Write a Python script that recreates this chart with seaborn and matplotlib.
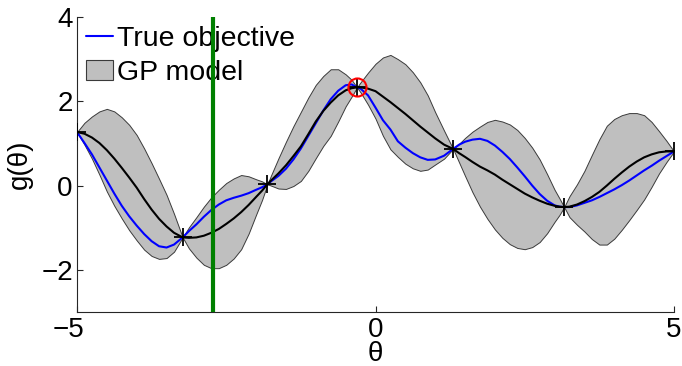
import matplotlib
matplotlib.use("Agg")
import matplotlib.pyplot as plt
import matplotlib.transforms as mtransforms
import seaborn as sns
import pandas as pd
from matplotlib.lines import Line2D
from matplotlib.patches import Patch

# ---- data ----
theta = [-5.0, -4.875, -4.75, -4.625, -4.5, -4.375, -4.25, -4.125, -4.0, -3.875, -3.75, -3.625, -3.5, -3.375, -3.23,
         -3.125, -3.0, -2.875, -2.75, -2.625, -2.5, -2.375, -2.25, -2.125, -2.0, -1.9, -1.81,
         -1.75, -1.625, -1.5, -1.375, -1.25, -1.125, -1.0, -0.875, -0.75, -0.625, -0.5, -0.4, -0.31,
         -0.25, -0.125, 0.0, 0.125, 0.25, 0.375, 0.5, 0.625, 0.75, 0.875, 1.0, 1.15, 1.3,
         1.4, 1.5, 1.625, 1.75, 1.875, 2.0, 2.125, 2.25, 2.375, 2.5, 2.625, 2.75, 2.875, 3.0, 3.08, 3.16,
         3.25, 3.375, 3.5, 3.625, 3.75, 3.875, 4.0, 4.125, 4.25, 4.375, 4.5, 4.625, 4.75, 4.875, 5.0]

gp_mean = [1.27, 1.23, 1.14, 1.01, 0.84, 0.64, 0.42, 0.19, -0.05, -0.32, -0.57, -0.79, -0.97, -1.12, -1.23,
           -1.24, -1.23, -1.19, -1.12, -1.03, -0.91, -0.78, -0.63, -0.46, -0.27, -0.12, 0.03,
           0.12, 0.29, 0.48, 0.70, 0.93, 1.22, 1.52, 1.77, 1.97, 2.14, 2.26, 2.31, 2.33,
           2.33, 2.30, 2.24, 2.11, 1.98, 1.84, 1.70, 1.55, 1.40, 1.26, 1.12, 0.97, 0.87,
           0.77, 0.68, 0.56, 0.45, 0.36, 0.26, 0.14, 0.03, -0.08, -0.19, -0.28, -0.36, -0.43, -0.48, -0.50, -0.51,
           -0.50, -0.45, -0.37, -0.27, -0.15, 0.00, 0.16, 0.31, 0.45, 0.57, 0.67, 0.74, 0.79, 0.81, 0.81]

gp_upper = [1.27, 1.49, 1.64, 1.76, 1.82, 1.76, 1.62, 1.44, 1.20, 0.88, 0.53, 0.16, -0.22, -0.67, -1.23,
            -0.99, -0.75, -0.50, -0.28, -0.10, 0.06, 0.17, 0.25, 0.22, 0.15, 0.10, 0.03,
            0.24, 0.65, 1.04, 1.41, 1.75, 2.09, 2.39, 2.60, 2.76, 2.76, 2.64, 2.51, 2.33,
            2.45, 2.68, 2.89, 3.04, 3.10, 3.00, 2.88, 2.69, 2.45, 2.14, 1.74, 1.30, 0.87,
            0.99, 1.13, 1.28, 1.40, 1.51, 1.56, 1.52, 1.45, 1.32, 1.13, 0.90, 0.62, 0.27, -0.10, -0.30, -0.51,
            -0.25, 0.03, 0.35, 0.73, 1.10, 1.42, 1.58, 1.67, 1.72, 1.72, 1.67, 1.51, 1.29, 1.06, 0.81]

gp_lower = [1.27, 0.97, 0.64, 0.26, -0.14, -0.48, -0.78, -1.06, -1.30, -1.52, -1.67, -1.74, -1.72, -1.57, -1.23,
            -1.49, -1.71, -1.88, -1.96, -1.96, -1.88, -1.73, -1.51, -1.14, -0.69, -0.34, 0.03,
            0.00, -0.07, -0.08, -0.01, 0.11, 0.35, 0.65, 0.94, 1.18, 1.52, 1.88, 2.11, 2.33,
            2.21, 1.92, 1.59, 1.18, 0.86, 0.68, 0.52, 0.41, 0.35, 0.38, 0.50, 0.64, 0.87,
            0.55, 0.23, -0.16, -0.50, -0.79, -1.04, -1.24, -1.39, -1.48, -1.51, -1.46, -1.34, -1.13, -0.86, -0.70, -0.51,
            -0.75, -0.93, -1.09, -1.27, -1.40, -1.40, -1.26, -1.05, -0.82, -0.58, -0.33, -0.03, 0.29, 0.56, 0.81]

true_obj = [1.27, 1.01, 0.74, 0.43, 0.12, -0.19, -0.48, -0.73, -0.95, -1.15, -1.32, -1.44, -1.47, -1.40, -1.23,
            -1.08, -0.92, -0.74, -0.58, -0.45, -0.35, -0.29, -0.24, -0.18, -0.10, -0.04, 0.03,
            0.10, 0.23, 0.40, 0.62, 0.88, 1.18, 1.48, 1.78, 2.05, 2.25, 2.38, 2.40, 2.33,
            2.30, 2.14, 1.85, 1.55, 1.33, 1.05, 0.90, 0.77, 0.67, 0.61, 0.62, 0.71, 0.87,
            0.97, 1.04, 1.09, 1.11, 1.06, 0.95, 0.80, 0.63, 0.43, 0.22, 0.00, -0.20, -0.36, -0.47, -0.50, -0.51,
            -0.51, -0.47, -0.41, -0.35, -0.27, -0.18, -0.09, 0.01, 0.12, 0.24, 0.36, 0.47, 0.59, 0.70, 0.81]

obs_theta = [-5.0, -3.23, -1.81, -0.31, 1.30, 3.16, 5.0]
obs_g = [1.27, -1.23, 0.03, 2.33, 0.87, -0.51, 0.81]

best_theta = [-0.31]
best_g = [2.33]

next_theta = -2.72

x_ticks = [-5, 0, 5]
y_ticks = [-2, 0, 2, 4]
legend_labels = ["True objective", "GP model"]

df = pd.DataFrame({"theta": theta, "mean": gp_mean, "upper": gp_upper,
                   "lower": gp_lower, "true": true_obj})

# ---- styling ----
sns.set_style("ticks")
plt.rcParams["font.family"] = ["Liberation Sans", "DejaVu Sans"]
plt.rcParams["axes.unicode_minus"] = True
plt.rcParams["text.color"] = "black"
plt.rcParams["axes.labelcolor"] = "black"

fig = plt.figure(figsize=(6.82, 3.66), dpi=100)
ax = fig.add_axes([77 / 682, 1 - 312 / 366, (674 - 77) / 682, (312 - 17) / 366])

ax.fill_between(df["theta"], df["lower"], df["upper"], facecolor="#bfbfbf",
                edgecolor="#3a3a3a", linewidth=0.7, zorder=1)

sns.lineplot(data=df, x="theta", y="true", color="#0000ff", linewidth=1.5,
             ax=ax, zorder=3, sort=False)
sns.lineplot(data=df, x="theta", y="mean", color="black", linewidth=1.5,
             ax=ax, zorder=4, sort=False)

ax.axvline(next_theta, color="#008000", linewidth=3, zorder=7)

ax.plot(obs_theta, obs_g, linestyle="none", marker="+", markersize=13.5,
        markeredgewidth=1.3, color="black", zorder=5)
ax.plot(best_theta, best_g, linestyle="none", marker="o", markersize=13,
        markerfacecolor="none", markeredgecolor="red", markeredgewidth=1.5, zorder=6)

ax.set_xlim(-5, 5)
ax.set_ylim(-3, 4)
ax.set_xticks(x_ticks)
ax.set_yticks(y_ticks)
ax.tick_params(direction="in", length=4, width=0.8, labelsize=20, colors="#262626",
               labelcolor="black")
ax.tick_params(axis="x", pad=3.5)
ax.tick_params(axis="y", pad=3)
ax.set_xlabel("θ", fontsize=20, labelpad=-1)
ax.set_ylabel("g(θ)", fontsize=20, labelpad=6)
sns.despine(ax=ax)
for s in ["left", "bottom"]:
    ax.spines[s].set_linewidth(0.8)
    ax.spines[s].set_color("#262626")

# MATLAB-style: digit centred on tick, minus sign hanging left
fig.canvas.draw()
xlabels = ax.get_xticklabels()
shift = mtransforms.ScaledTranslation(-8 / 100, 0, fig.dpi_scale_trans)
xlabels[0].set_transform(xlabels[0].get_transform() + shift)

handles = [Line2D([0], [0], color="#0000ff", linewidth=1.5),
           Patch(facecolor="#bfbfbf", edgecolor="#3a3a3a", linewidth=0.8)]
leg = ax.legend(handles, legend_labels, loc="upper left", frameon=False,
                fontsize=20.5, handlelength=0.95, handletextpad=0.15,
                borderaxespad=0.1, labelspacing=0.3, borderpad=0.2)
leg.set_zorder(6)

fig.savefig("out.png", dpi=100)
